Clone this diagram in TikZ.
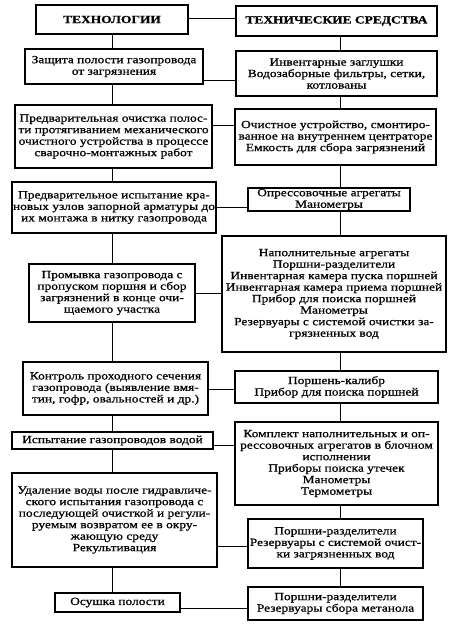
\documentclass[tikz,border=0pt]{standalone}
\usepackage{fontspec}
\setmainfont[FakeStretch=1.22,FakeBold=0.9]{Liberation Serif}
\begin{document}
\begin{tikzpicture}[x=1pt,y=-1pt,
  box/.style={draw,line width=1.1pt,inner sep=0pt,align=center,
    font=\fontsize{11}{11.5}\selectfont},
  headbox/.style={draw,line width=2pt,inner sep=0pt,align=center,
    font=\fontsize{11}{11.5}\selectfont\bfseries},
  link/.style={line width=0.9pt}]
\useasboundingbox (0,0) rectangle (451,626);
\coordinate (vl) at (112,0);
\coordinate (vr) at (340,0);
% left column
\node[headbox,minimum width=152pt,minimum height=29pt] (L0) at (112,19.5) {ТЕХНОЛОГИИ};
\node[box,minimum width=178pt,minimum height=35pt] (L1) at (114,66.5) {Защита полости газопровода\\от загрязнения};
\node[box,minimum width=197pt,minimum height=63pt] (L2) at (113.5,136.5) {Предварительная очистка полос-\\ти протягиванием механического\\очистного устройства в процессе\\сварочно-монтажных работ};
\node[box,minimum width=204pt,minimum height=51pt] (L3) at (114,207.5) {Предварительное испытание кра-\\новых узлов запорной арматуры до\\их монтажа в нитку газопровода};
\node[box,minimum width=166pt,minimum height=58pt] (L4) at (112,293) {Промывка газопровода с\\пропуском поршня и сбор\\загрязнений в конце очи-\\щаемого участка};
\node[box,minimum width=185pt,minimum height=53pt] (L5) at (115.5,388.5) {Контроль проходного сечения\\газопровода (выявление вмя-\\тин, гофр, овальностей и др.)};
\node[box,minimum width=201pt,minimum height=17pt] (L6) at (112.5,440.5) {Испытание газопроводов водой};
\node[box,minimum width=205pt,minimum height=94pt] (L7) at (114.5,520) {Удаление воды после гидравличе-\\ского испытания газопровода с\\последующей очисткой и регули-\\руемым возвратом ее в окру-\\жающую среду\\Рекультивация};
\node[box,minimum width=125pt,minimum height=19pt] (L8) at (117.5,602.5) {Осушка полости};
% right column
\node[headbox,minimum width=201pt,minimum height=30pt] (R0) at (336.5,21) {ТЕХНИЧЕСКИЕ СРЕДСТВА};
\node[box,minimum width=201pt,minimum height=45pt] (R1) at (336.5,73.5) {Инвентарные заглушки\\Водозаборные фильтры, сетки,\\котлованы};
\node[box,minimum width=201pt,minimum height=56pt] (R2) at (335.5,137) {Очистное устройство, смонтиро-\\ванное на внутреннем центраторе\\Емкость для сбора загрязнений};
\node[box,minimum width=162pt,minimum height=23pt] (R3) at (329,199.5) {Опрессовочные агрегаты\\Манометры};
\node[box,minimum width=224pt,minimum height=116pt] (R4) at (334,294) {Наполнительные агрегаты\\Поршни-разделители\\Инвентарная камера пуска поршней\\Инвентарная камера приема поршней\\Прибор для поиска поршней\\Манометры\\Резервуары с системой очистки за-\\грязненных вод};
\node[box,minimum width=203pt,minimum height=32pt] (R5) at (336.5,387) {Поршень-калибр\\Прибор для поиска поршней};
\node[box,minimum width=203pt,minimum height=83pt] (R6) at (336.5,463.5) {Комплект наполнительных и оп-\\рессовочных агрегатов в блочном\\исполнении\\Приборы поиска утечек\\Манометры\\Термометры};
\node[box,minimum width=175pt,minimum height=49pt] (R7) at (335.5,543.5) {Поршни-разделители\\Резервуары с системой очист-\\ки загрязненных вод};
\node[box,minimum width=175pt,minimum height=33pt] (R8) at (335.5,603.5) {Поршни-разделители\\Резервуары сбора метанола};
% vertical connectors
\foreach \a/\b in {L0/L1,L1/L2,L2/L3,L3/L4,L4/L5,L5/L6,L6/L7,L7/L8}
  \draw[link] (\a.south -| vl) -- (\b.north -| vl);
\foreach \a/\b in {R0/R1,R1/R2,R2/R3,R3/R4,R4/R5,R5/R6,R6/R7,R7/R8}
  \draw[link] (\a.south -| vr) -- (\b.north -| vr);
% horizontal connectors
\foreach \i/\y in {0/18,1/80,2/125,3/207,4/293,5/389,6/445,7/546,8/608}
  \draw[link] (L\i.east |- 0,\y) -- (R\i.west |- 0,\y);
\end{tikzpicture}
\end{document}
